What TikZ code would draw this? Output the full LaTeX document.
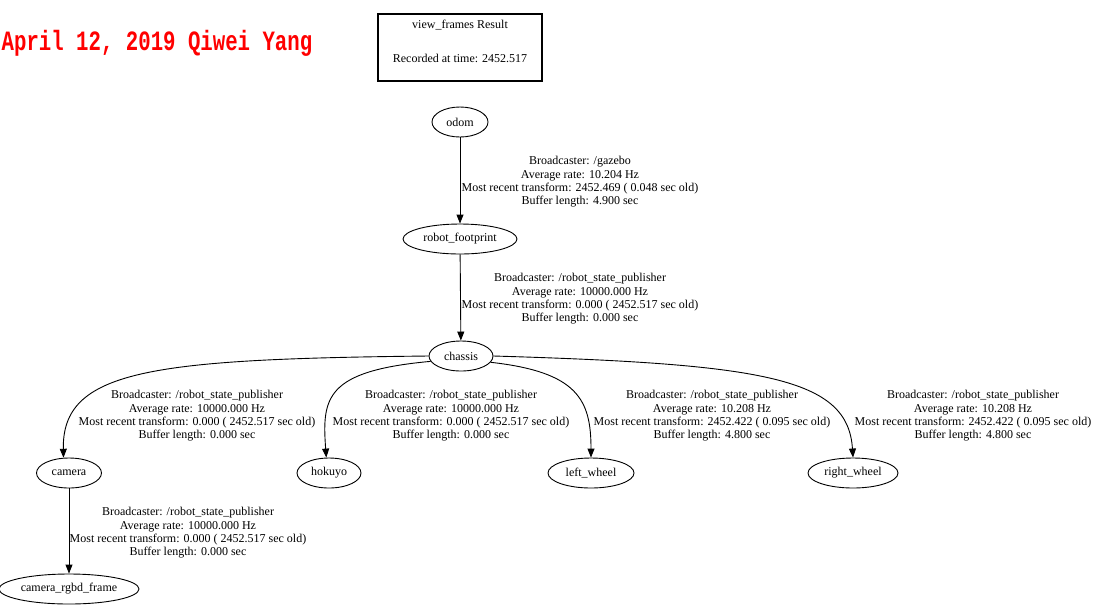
\documentclass[tikz,border=0pt]{standalone}
\usepackage{fontspec}
\usepackage{graphicx}
\setmainfont{Liberation Serif}
\newfontfamily\stampfont{Liberation Mono}
\usetikzlibrary{shapes.geometric,arrows.meta}

\tikzset{
    frame/.style={ellipse,draw,line width=0.9pt,inner xsep=1pt,inner ysep=0pt,minimum height=30pt},
    tf/.style={draw,line width=0.9pt,-{Triangle[length=9pt,width=7pt]}},
    tflabel/.style={align=center,inner sep=0pt,font=\fontsize{12}{13.4}\selectfont},
    resultbox/.style={draw,line width=1.3pt,minimum width=164pt,minimum height=67pt},
    stamp/.style={text=red,inner sep=0pt,font=\stampfont\bfseries\fontsize{20.7}{24}\selectfont}
}

\begin{document}
\begin{tikzpicture}[x=1pt,y=-1pt,font=\fontsize{12}{14}\selectfont]
        \useasboundingbox (0,0) rectangle (1099,611);

        % Draw header
        \node[stamp] (stamp) at (157,43) {\scalebox{1}[1.35]{April 12, 2019 Qiwei Yang}};
        \node[resultbox] (result) at (460,47.5) {};
        \node (resulthead) at (460,25) {view\_frames Result};
        \node (resulttime) at (460,58) {Recorded at time: 2452.517};

        % Draw nodes explicitly
        \node[frame,minimum width=56pt] (odom) at (460,122) {odom};
        \node[frame,minimum width=114pt] (footprint) at (460,239) {robot\_footprint};
        \node[frame,minimum width=64pt] (chassis) at (461,356) {chassis};
        \node[frame,minimum width=65pt] (camera) at (69,473) {camera};
        \node[frame,minimum width=64pt] (hokuyo) at (329,473) {hokuyo};
        \node[frame,minimum width=86pt] (leftwheel) at (591,473) {left\_wheel};
        \node[frame,minimum width=90pt] (rightwheel) at (853,473) {right\_wheel};
        \node[frame,minimum width=140pt] (rgbd) at (69,589) {camera\_rgbd\_frame};

        % Draw straight transforms
        \draw[tf] (odom) -- (footprint);
        \draw[tf] (footprint) -- (chassis);
        \draw[tf] (camera.south) -- (rgbd.north);

        % Draw curved transforms
        \draw[tf] (chassis.west) .. controls (150,359) and (62,370) .. (camera.110);
        \draw[tf] (chassis.190) .. controls (325,371) and (322,398) .. (hokuyo.100);
        \draw[tf] (chassis.-12) .. controls (578,372) and (591,400) .. (leftwheel.north);
        \draw[tf] (chassis.east) .. controls (765,364) and (848,378) .. (rightwheel.north);

        % Draw transform labels
        \node[tflabel] (lodom) at (580,182) {Broadcaster: /gazebo\\Average rate: 10.204 Hz\\Most recent transform: 2452.469 ( 0.048 sec old)\\Buffer length: 4.900 sec};
        \node[tflabel] (lfootprint) at (580,299) {Broadcaster: /robot\_state\_publisher\\Average rate: 10000.000 Hz\\Most recent transform: 0.000 ( 2452.517 sec old)\\Buffer length: 0.000 sec};
        \node[tflabel] (lcamera) at (197,416) {Broadcaster: /robot\_state\_publisher\\Average rate: 10000.000 Hz\\Most recent transform: 0.000 ( 2452.517 sec old)\\Buffer length: 0.000 sec};
        \node[tflabel] (lhokuyo) at (451,416) {Broadcaster: /robot\_state\_publisher\\Average rate: 10000.000 Hz\\Most recent transform: 0.000 ( 2452.517 sec old)\\Buffer length: 0.000 sec};
        \node[tflabel] (lleftwheel) at (712,416) {Broadcaster: /robot\_state\_publisher\\Average rate: 10.208 Hz\\Most recent transform: 2452.422 ( 0.095 sec old)\\Buffer length: 4.800 sec};
        \node[tflabel] (lrightwheel) at (973,416) {Broadcaster: /robot\_state\_publisher\\Average rate: 10.208 Hz\\Most recent transform: 2452.422 ( 0.095 sec old)\\Buffer length: 4.800 sec};
        \node[tflabel] (lrgbd) at (188,533) {Broadcaster: /robot\_state\_publisher\\Average rate: 10000.000 Hz\\Most recent transform: 0.000 ( 2452.517 sec old)\\Buffer length: 0.000 sec};
    \end{tikzpicture}
\end{document}
